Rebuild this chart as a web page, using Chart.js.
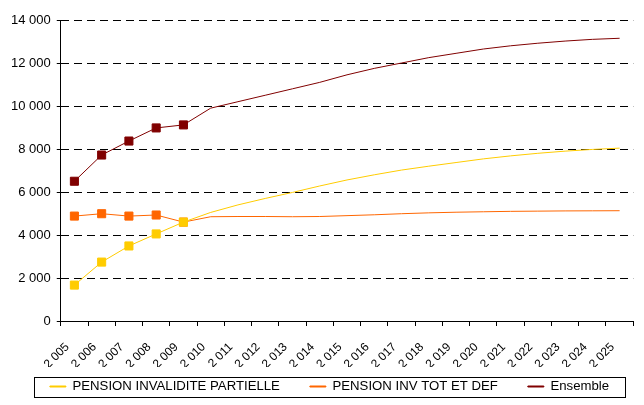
<!DOCTYPE html>
<html>
<head>
<meta charset="utf-8">
<script src="https://cdn.jsdelivr.net/npm/chart.js@4/dist/chart.umd.min.js"></script>
<style>
  html, body { margin: 0; padding: 0; background: #fff; }
  canvas { display: block; }
</style>
</head>
<body>
<canvas id="chart" width="644" height="405"></canvas>
<script>
// ── Data ─────────────────────────────────────────────────
const years = ['2 005', '2 006', '2 007', '2 008', '2 009', '2 010', '2 011', '2 012', '2 013', '2 014', '2 015',
               '2 016', '2 017', '2 018', '2 019', '2 020', '2 021', '2 022', '2 023', '2 024', '2 025'];

const partielle = [1670, 2740, 3490, 4050, 4600, 5050, 5400, 5700, 5980, 6280, 6560,
                   6800, 7020, 7200, 7370, 7540, 7680, 7800, 7900, 7980, 8040];
const totDef    = [4880, 4990, 4880, 4930, 4600, 4850, 4860, 4860, 4850, 4860, 4900,
                   4940, 4990, 5030, 5060, 5080, 5100, 5110, 5120, 5125, 5130];
const ensemble  = [6500, 7720, 8370, 8980, 9120, 9900, 10200, 10500, 10800, 11100, 11450,
                   11750, 12000, 12250, 12450, 12650, 12800, 12920, 13020, 13100, 13150];

const yTicks = [0, 2000, 4000, 6000, 8000, 10000, 12000, 14000];
const observedCount = 5;   // markers only on observed years

// ── Helpers ──────────────────────────────────────────────
const fmt = v => String(v).replace(/\B(?=(\d{3})+(?!\d))/g, ' ');
const radii = arr => arr.map((_, i) => i < observedCount ? 5.7 : 0);

function series(label, data, color) {
    return {
        label,
        data,
        borderColor: color,
        backgroundColor: color,
        borderWidth: 1,
        pointStyle: 'rect',
        pointRadius: radii(data),
        pointHoverRadius: 0,
        pointBackgroundColor: color,
        pointBorderColor: color,
        tension: 0,
    };
}

// ── Legend: framed row, nudged to where Excel puts it ─────
const LEGEND_CENTER = { x: 329.5, y: 386.5 };
const legendFrame = {
    id: 'legendFrame',
    beforeDraw(chart) {
        const lg = chart.legend;
        const boxes = lg && lg.legendHitBoxes;
        if (!boxes || !boxes.length) return;
        const first = boxes[0], last = boxes[boxes.length - 1];
        lg._dx = LEGEND_CENTER.x - (first.left + last.left + last.width) / 2;
        lg._dy = LEGEND_CENTER.y - (first.top + first.height / 2);
        if (lg._shifted) return;
        const draw = lg.draw;
        // move the legend box itself (its clip follows), then put it back
        lg.draw = function (...args) {
            const saved = { left: this.left, right: this.right, top: this.top };
            this.left += this._dx || 0;
            this.right += this._dx || 0;
            this.top += this._dy || 0;
            draw.apply(this, args);
            Object.assign(this, saved);
        };
        lg._shifted = true;
    },
    afterDraw(chart) {
        const lg = chart.legend;
        const boxes = lg && lg.legendHitBoxes;
        if (!boxes || !boxes.length) return;
        const first = boxes[0], last = boxes[boxes.length - 1];
        const ctx = chart.ctx;
        const left  = first.left + lg._dx;
        const right = last.left + last.width + lg._dx;
        const cy    = LEGEND_CENTER.y;
        ctx.save();
        ctx.strokeStyle = '#000';
        ctx.lineWidth = 1;
        const x1 = Math.round(left - 16) + 0.5;
        const x2 = Math.round(right + 16) + 0.5;
        const y1 = Math.round(cy - 10) + 0.5;
        const y2 = Math.round(cy + 10.5) + 0.5;
        ctx.strokeRect(x1, y1, x2 - x1, y2 - y1);
        ctx.restore();
    }
};

const FAMILY = '"Liberation Sans", Arial, sans-serif';

new Chart(document.getElementById('chart').getContext('2d'), {
    type: 'line',
    data: {
        labels: years,
        datasets: [
            series('PENSION INVALIDITE PARTIELLE', partielle, '#FFCC00'),
            series('PENSION INV TOT ET DEF', totDef, '#FF6600'),
            series('Ensemble', ensemble, '#800000'),
        ],
    },
    options: {
        responsive: false,
        animation: false,
        devicePixelRatio: 1,
        layout: { padding: { top: 20, right: 0, left: 5, bottom: 0 } },
        plugins: {
            legend: {
                position: 'bottom',
                maxHeight: 38,
                labels: {
                    color: '#000',
                    font: { family: FAMILY, size: 13.2 },
                    boxWidth: 16,
                    boxHeight: 1,
                    padding: 30,
                },
            },
            tooltip: { enabled: false },
        },
        scales: {
            x: {
                offset: true,
                afterFit: axis => { axis.height = 46; },
                grid: {
                    offset: true,
                    drawOnChartArea: false,
                    tickLength: 5,
                    color: '#000',
                },
                border: { display: true, color: '#000', width: 1 },
                ticks: {
                    color: '#000',
                    font: { family: FAMILY, size: 12 },
                    autoSkip: false,
                    minRotation: 45,
                    maxRotation: 45,
                    padding: 14,
                    labelOffset: -7,
                },
            },
            y: {
                min: 0,
                max: 14000,
                afterBuildTicks: axis => { axis.ticks = yTicks.map(v => ({ value: v })); },
                grid: {
                    color: '#000',
                    lineWidth: 1,
                    tickLength: 4,
                    tickBorderDash: [],
                },
                border: { display: true, color: '#000', width: 1, dash: [8, 5] },
                ticks: {
                    color: '#000',
                    font: { family: FAMILY, size: 13 },
                    padding: 6,
                    callback: v => fmt(v),
                },
            },
            // empty right margin so the plot ends where Excel's does
            yRight: {
                position: 'right',
                grid: { display: false, drawTicks: false },
                border: { display: false },
                ticks: { display: false },
                afterFit: axis => { axis.width = 8; },
            },
        },
    },
    plugins: [legendFrame],
});
</script>
</body>
</html>
